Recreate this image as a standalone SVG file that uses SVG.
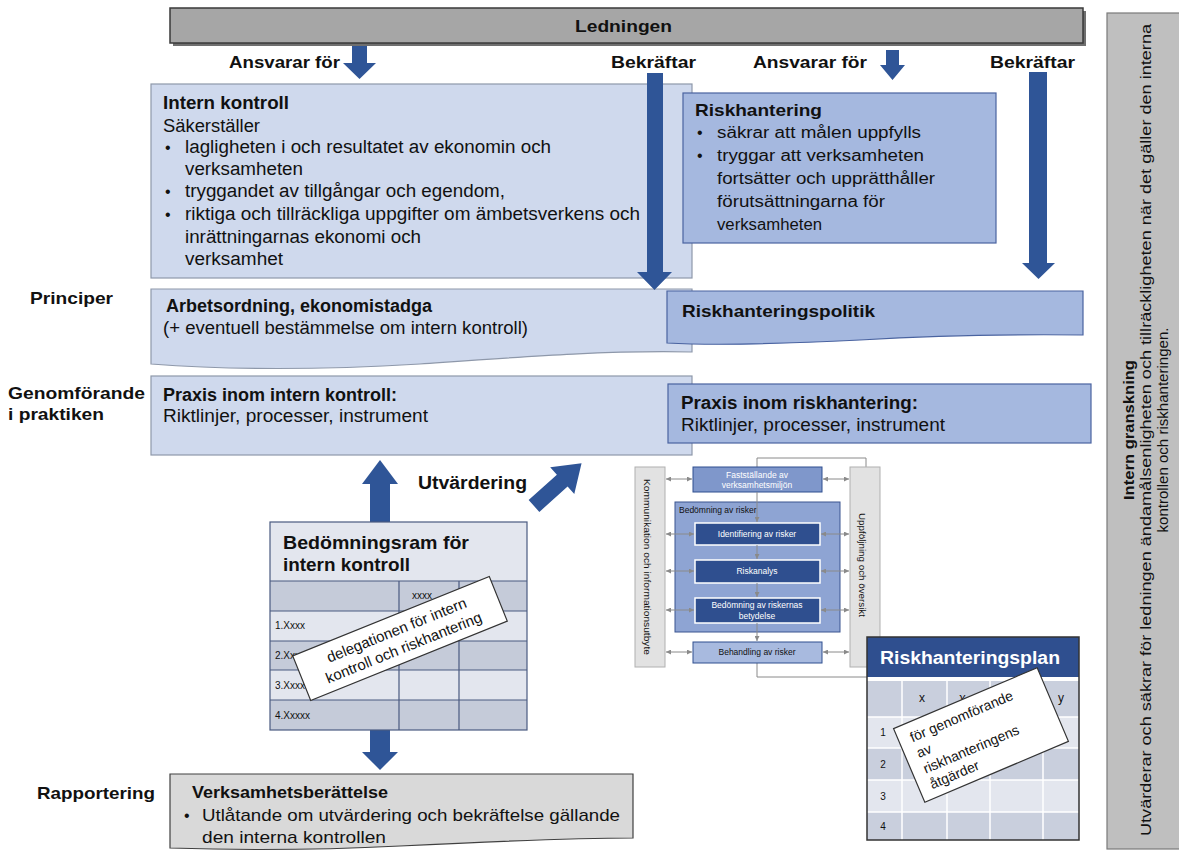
<svg xmlns="http://www.w3.org/2000/svg" width="1179" height="857" viewBox="0 0 1179 857">
<defs>
<style>
text{font-family:"Liberation Sans",Arial,sans-serif;fill:#111}
.b{font-weight:bold}
.lb{fill:#cfd9ed;stroke:#8e98aa;stroke-width:1.2}
.db{fill:#a5b8df;stroke:#4a63a0;stroke-width:1.2}
.arr{fill:#2f5597}
.t18{font-size:18px}
.t17{font-size:17px}
.t16{font-size:16px}
.sm{font-size:8.5px}
.wt{fill:#fff}
.pl{stroke:#8a8a8a;stroke-width:1;fill:none}
.grid{stroke:#4a5a80;stroke-width:1.2;fill:none}
</style>
<marker id="ah" viewBox="0 0 6 6" refX="6" refY="3" markerWidth="5" markerHeight="5" orient="auto-start-reverse"><path d="M0,0 L6,3 L0,6 Z" fill="#8a8a8a"/></marker>
</defs>
<rect width="1179" height="857" fill="#fff"/>

<g id="ledningen">
<rect x="173" y="11" width="913" height="35" fill="#6f6f6f"/>
<rect x="170" y="8" width="913" height="35" fill="#a6a6a6" stroke="#3a3a3a" stroke-width="1.5"/>
<text x="575" y="32" class="b t17" textLength="97" lengthAdjust="spacingAndGlyphs">Ledningen</text>
</g>

<g id="sidebar">
<rect x="1107" y="13" width="80" height="836" fill="#bfbfbf" stroke="#7a7a7a" stroke-width="1.2"/>
<text transform="translate(1134,430) rotate(-90)" text-anchor="middle" class="b" font-size="15" textLength="140" lengthAdjust="spacingAndGlyphs">Intern granskning</text>
<text transform="translate(1151,430) rotate(-90)" text-anchor="middle" font-size="15" textLength="812" lengthAdjust="spacingAndGlyphs">Utvärderar och säkrar för ledningen ändamålsenligheten och tillräckligheten när det gäller den interna</text>
<text transform="translate(1168,430) rotate(-90)" text-anchor="middle" font-size="15" textLength="205" lengthAdjust="spacingAndGlyphs">kontrollen och riskhanteringen.</text>
</g>

<g id="intern-kontroll">
<rect x="151" y="84" width="541" height="194" class="lb"/>
<text x="163" y="109" class="b t18" textLength="126" lengthAdjust="spacingAndGlyphs">Intern kontroll</text>
<text x="163" y="132" class="t18" textLength="97" lengthAdjust="spacingAndGlyphs">Säkerställer</text>
<text x="165" y="153" class="t16">•</text>
<text x="185" y="153" class="t18" textLength="366" lengthAdjust="spacingAndGlyphs">lagligheten i och resultatet av ekonomin och</text>
<text x="185" y="175" class="t18" textLength="118" lengthAdjust="spacingAndGlyphs">verksamheten</text>
<text x="165" y="197" class="t16">•</text>
<text x="185" y="197" class="t18" textLength="320" lengthAdjust="spacingAndGlyphs">tryggandet av tillgångar och egendom,</text>
<text x="165" y="220" class="t16">•</text>
<text x="185" y="220" class="t18" textLength="455" lengthAdjust="spacingAndGlyphs">riktiga och tillräckliga uppgifter om ämbetsverkens och</text>
<text x="185" y="243" class="t18" textLength="236" lengthAdjust="spacingAndGlyphs">inrättningarnas ekonomi och</text>
<text x="185" y="265" class="t18" textLength="98" lengthAdjust="spacingAndGlyphs">verksamhet</text>
</g>

<g id="riskhantering">
<rect x="683" y="93" width="313" height="150" class="db"/>
<text x="695" y="116" class="b t17" textLength="127" lengthAdjust="spacingAndGlyphs">Riskhantering</text>
<text x="697" y="138" class="t16">•</text>
<text x="717" y="138" class="t16" textLength="204" lengthAdjust="spacingAndGlyphs">säkrar att målen uppfylls</text>
<text x="697" y="161" class="t16">•</text>
<text x="717" y="161" class="t16" textLength="207" lengthAdjust="spacingAndGlyphs">tryggar att verksamheten</text>
<text x="717" y="184" class="t16" textLength="218" lengthAdjust="spacingAndGlyphs">fortsätter och upprätthåller</text>
<text x="717" y="207" class="t16" textLength="168" lengthAdjust="spacingAndGlyphs">förutsättningarna för</text>
<text x="717" y="230" class="t16" textLength="105" lengthAdjust="spacingAndGlyphs">verksamheten</text>
</g>

<g id="labels">
<text x="229" y="68" class="b t17" textLength="111" lengthAdjust="spacingAndGlyphs">Ansvarar för</text>
<text x="611" y="68" class="b t17" textLength="85" lengthAdjust="spacingAndGlyphs">Bekräftar</text>
<text x="753" y="68" class="b t17" textLength="114" lengthAdjust="spacingAndGlyphs">Ansvarar för</text>
<text x="990" y="68" class="b t17" textLength="85" lengthAdjust="spacingAndGlyphs">Bekräftar</text>
<text x="30" y="304" class="b t17" textLength="83" lengthAdjust="spacingAndGlyphs">Principer</text>
<text x="8" y="399" class="b t17" textLength="137" lengthAdjust="spacingAndGlyphs">Genomförande</text>
<text x="8" y="420" class="b t17" textLength="96" lengthAdjust="spacingAndGlyphs">i praktiken</text>
<text x="418" y="489" class="b t18" textLength="109" lengthAdjust="spacingAndGlyphs">Utvärdering</text>
<text x="37" y="799" class="b t17" textLength="118" lengthAdjust="spacingAndGlyphs">Rapportering</text>
</g>

<g id="arbetsordning">
<path d="M151,289 H692 V352 C610,350 520,357 420,364 C320,370 230,370 151,364 Z" class="lb"/>
<text x="166" y="312" class="b t18" textLength="266" lengthAdjust="spacingAndGlyphs">Arbetsordning, ekonomistadga</text>
<text x="163" y="334" class="t18" textLength="365" lengthAdjust="spacingAndGlyphs">(+ eventuell  bestämmelse om intern kontroll)</text>
</g>

<g id="riskhanteringspolitik">
<path d="M667,291 H1083 V335 C1000,334 930,336 860,340 C780,344 720,346 667,343 Z" class="db"/>
<text x="682" y="317" class="b" font-size="16.5" textLength="193" lengthAdjust="spacingAndGlyphs">Riskhanteringspolitik</text>
</g>

<g id="praxis-intern">
<rect x="151" y="376" width="541" height="79" class="lb"/>
<text x="163" y="401" class="b t18" textLength="234" lengthAdjust="spacingAndGlyphs">Praxis inom intern kontroll:</text>
<text x="163" y="422" class="t18" textLength="265" lengthAdjust="spacingAndGlyphs">Riktlinjer, processer, instrument</text>
</g>

<g id="praxis-risk">
<rect x="668" y="384" width="423" height="59" class="db"/>
<text x="681" y="409" class="b" font-size="17.5" textLength="237" lengthAdjust="spacingAndGlyphs">Praxis inom riskhantering:</text>
<text x="681" y="431" font-size="17.5" textLength="264" lengthAdjust="spacingAndGlyphs">Riktlinjer, processer, instrument</text>
</g>

<g id="connectors">
<polygon class="arr" points="352,46 367,46 367,63 376,63 359.5,79 343,63 352,63"/>
<polygon class="arr" points="647,73 663,73 663,272 672,272 654.5,290 637,272 647,272"/>
<polygon class="arr" points="886,50 899,50 899,65 905,65 892.5,80 880,65 886,65"/>
<polygon class="arr" points="1029,72 1047,72 1047,263 1055,263 1038.5,279 1022,263 1029,263"/>
<polygon class="arr" points="370,522 390,522 390,484 398,484 380,460 362,484 370,484"/>
<polygon class="arr" transform="translate(534,506) rotate(-42)" points="0,-8 38,-8 38,-18 64,0 38,18 38,8 0,8"/>
<polygon class="arr" points="370,728 390,728 390,752 398,752 380,770 362,752 370,752"/>
</g>

<g id="bedomningsram">
<rect x="270" y="522" width="257" height="59" fill="#e3e6ee"/>
<rect x="270" y="581" width="257" height="30" fill="#c5cbd9"/>
<rect x="270" y="611" width="257" height="30" fill="#e3e6ee"/>
<rect x="270" y="641" width="257" height="29" fill="#c5cbd9"/>
<rect x="270" y="670" width="257" height="30" fill="#e3e6ee"/>
<rect x="270" y="700" width="257" height="30" fill="#c5cbd9"/>
<path class="grid" d="M270,581 H527 M270,611 H527 M270,641 H527 M270,670 H527 M270,700 H527 M399,581 V730 M459,581 V730"/>
<rect x="270" y="522" width="257" height="208" class="grid"/>
<text x="283" y="549" class="b" font-size="18.5" textLength="186" lengthAdjust="spacingAndGlyphs">Bedömningsram för</text>
<text x="283" y="571" class="b" font-size="18.5" textLength="127" lengthAdjust="spacingAndGlyphs">intern kontroll</text>
<text x="412" y="599" font-size="10" fill="#333">xxxx</text>
<text x="472" y="599" font-size="10" fill="#333">xxxx</text>
<text x="275" y="629" font-size="10" fill="#333">1.Xxxx</text>
<text x="275" y="659" font-size="10" fill="#333">2.Xxxx</text>
<text x="275" y="689" font-size="10" fill="#333">3.Xxxx</text>
<text x="275" y="719" font-size="10" fill="#333">4.Xxxxx</text>
<g transform="translate(400,638.5) rotate(-22)">
<rect x="-106" y="-24" width="212" height="48" fill="#fff" stroke="#333" stroke-width="1.2"/>
<text x="0" y="-4" text-anchor="middle" font-size="15">delegationen för intern</text>
<text x="0" y="15" text-anchor="middle" font-size="15">kontroll och riskhantering</text>
</g>
</g>

<g id="process">
<path class="pl" d="M757,467 V458 H866 V467"/>
<path class="pl" d="M757,663 V677 H867"/>
<rect x="635" y="467" width="30" height="200" fill="#e2e2e2" stroke="#b0b0b0"/>
<rect x="850" y="467" width="30" height="200" fill="#e2e2e2" stroke="#b0b0b0"/>
<text transform="translate(644,567) rotate(90)" text-anchor="middle" font-size="8.5" fill="#333" textLength="176" lengthAdjust="spacingAndGlyphs">Kommunikation och informationsutbyte</text>
<text transform="translate(859,565) rotate(90)" text-anchor="middle" font-size="8.5" fill="#333" textLength="104" lengthAdjust="spacingAndGlyphs">Uppföljning och översikt</text>
<rect x="675" y="502" width="165" height="130" fill="#8ea4d3" stroke="#3a5490"/>
<text x="679" y="513" class="sm" fill="#1f2d4d">Bedömning av risker</text>
<rect x="693" y="467" width="129" height="25" fill="#7f97cb" stroke="#2f4f8f"/>
<text x="757" y="478" text-anchor="middle" class="sm wt">Fastställande av</text>
<text x="757" y="488" text-anchor="middle" class="sm wt">verksamhetsmiljön</text>
<rect x="695" y="523" width="125" height="22" fill="#2f4f8f" stroke="#fff" stroke-width="1.5"/>
<text x="757" y="537" text-anchor="middle" class="sm wt">Identifiering av risker</text>
<rect x="695" y="560" width="125" height="23" fill="#2f4f8f" stroke="#fff" stroke-width="1.5"/>
<text x="757" y="574" text-anchor="middle" class="sm wt">Riskanalys</text>
<rect x="695" y="598" width="125" height="25" fill="#2f4f8f" stroke="#fff" stroke-width="1.5"/>
<text x="757" y="608" text-anchor="middle" class="sm wt">Bedömning av riskernas</text>
<text x="757" y="619" text-anchor="middle" class="sm wt">betydelse</text>
<rect x="693" y="642" width="129" height="21" fill="#a8badf" stroke="#2f4f8f"/>
<text x="757" y="655" text-anchor="middle" class="sm" fill="#222">Behandling av risker</text>
<g class="pl" marker-end="url(#ah)">
<path d="M757,492 V522"/>
<path d="M757,545 V559"/>
<path d="M757,583 V597"/>
<path d="M757,623 V641"/>
</g>
<g class="pl" marker-start="url(#ah)" marker-end="url(#ah)">
<path d="M666,479 H692"/>
<path d="M823,479 H849"/>
<path d="M666,534 H694"/>
<path d="M821,534 H849"/>
<path d="M666,571 H694"/>
<path d="M821,571 H849"/>
<path d="M666,610 H694"/>
<path d="M821,610 H849"/>
<path d="M666,652 H692"/>
<path d="M823,652 H849"/>
</g>
</g>

<g id="riskhanteringsplan">
<rect x="867" y="637" width="212" height="203" fill="#fff"/>
<rect x="867" y="637" width="212" height="40" fill="#2f4f8f"/>
<rect x="867" y="681" width="212" height="36" fill="#c9cfdd"/>
<rect x="867" y="717" width="212" height="31" fill="#e3e6ee"/>
<rect x="867" y="748" width="212" height="32" fill="#c9cfdd"/>
<rect x="867" y="780" width="212" height="32" fill="#e3e6ee"/>
<rect x="867" y="812" width="212" height="28" fill="#c9cfdd"/>
<path d="M867,717 H1079 M867,748 H1079 M867,780 H1079 M867,812 H1079 M902,681 V840 M947,681 V840 M990,681 V840 M1043,681 V840" stroke="#fff" stroke-width="1.5" fill="none"/>
<rect x="867" y="637" width="212" height="203" fill="none" stroke="#333" stroke-width="1.5"/>
<text x="880" y="664" class="b wt" font-size="17.5" textLength="180" lengthAdjust="spacingAndGlyphs">Riskhanteringsplan</text>
<text x="922" y="702" text-anchor="middle" font-size="12" fill="#333">x</text>
<text x="962" y="702" text-anchor="middle" font-size="12" font-style="italic" fill="#333">χ</text>
<text x="1061" y="702" text-anchor="middle" font-size="12" fill="#333">y</text>
<text x="883" y="736" text-anchor="middle" font-size="10" fill="#333">1</text>
<text x="883" y="768" text-anchor="middle" font-size="10" fill="#333">2</text>
<text x="883" y="800" text-anchor="middle" font-size="10" fill="#333">3</text>
<text x="883" y="830" text-anchor="middle" font-size="10" fill="#333">4</text>
<g transform="translate(981,735) rotate(-23)">
<rect x="-78" y="-40" width="156" height="80" fill="#fff" stroke="#333" stroke-width="1.2"/>
<text x="-66" y="-20" font-size="14">för genomförande</text>
<text x="-66" y="-3" font-size="14">av</text>
<text x="-66" y="14" font-size="14">riskhanteringens</text>
<text x="-66" y="31" font-size="14">åtgärder</text>
</g>
</g>

<g id="verksamhetsberattelse">
<path d="M170,774 H633 V838 C560,838 480,842 400,846 C300,851 230,850 170,848 Z" fill="#d9d9d9" stroke="#404040" stroke-width="1.2"/>
<text x="192" y="798" class="b t17" textLength="196" lengthAdjust="spacingAndGlyphs">Verksamhetsberättelse</text>
<text x="184" y="821" class="t16">•</text>
<text x="202" y="821" class="t17" textLength="418" lengthAdjust="spacingAndGlyphs">Utlåtande om utvärdering och bekräftelse gällande</text>
<text x="202" y="843" class="t17" textLength="184" lengthAdjust="spacingAndGlyphs">den interna kontrollen</text>
</g>
</svg>
